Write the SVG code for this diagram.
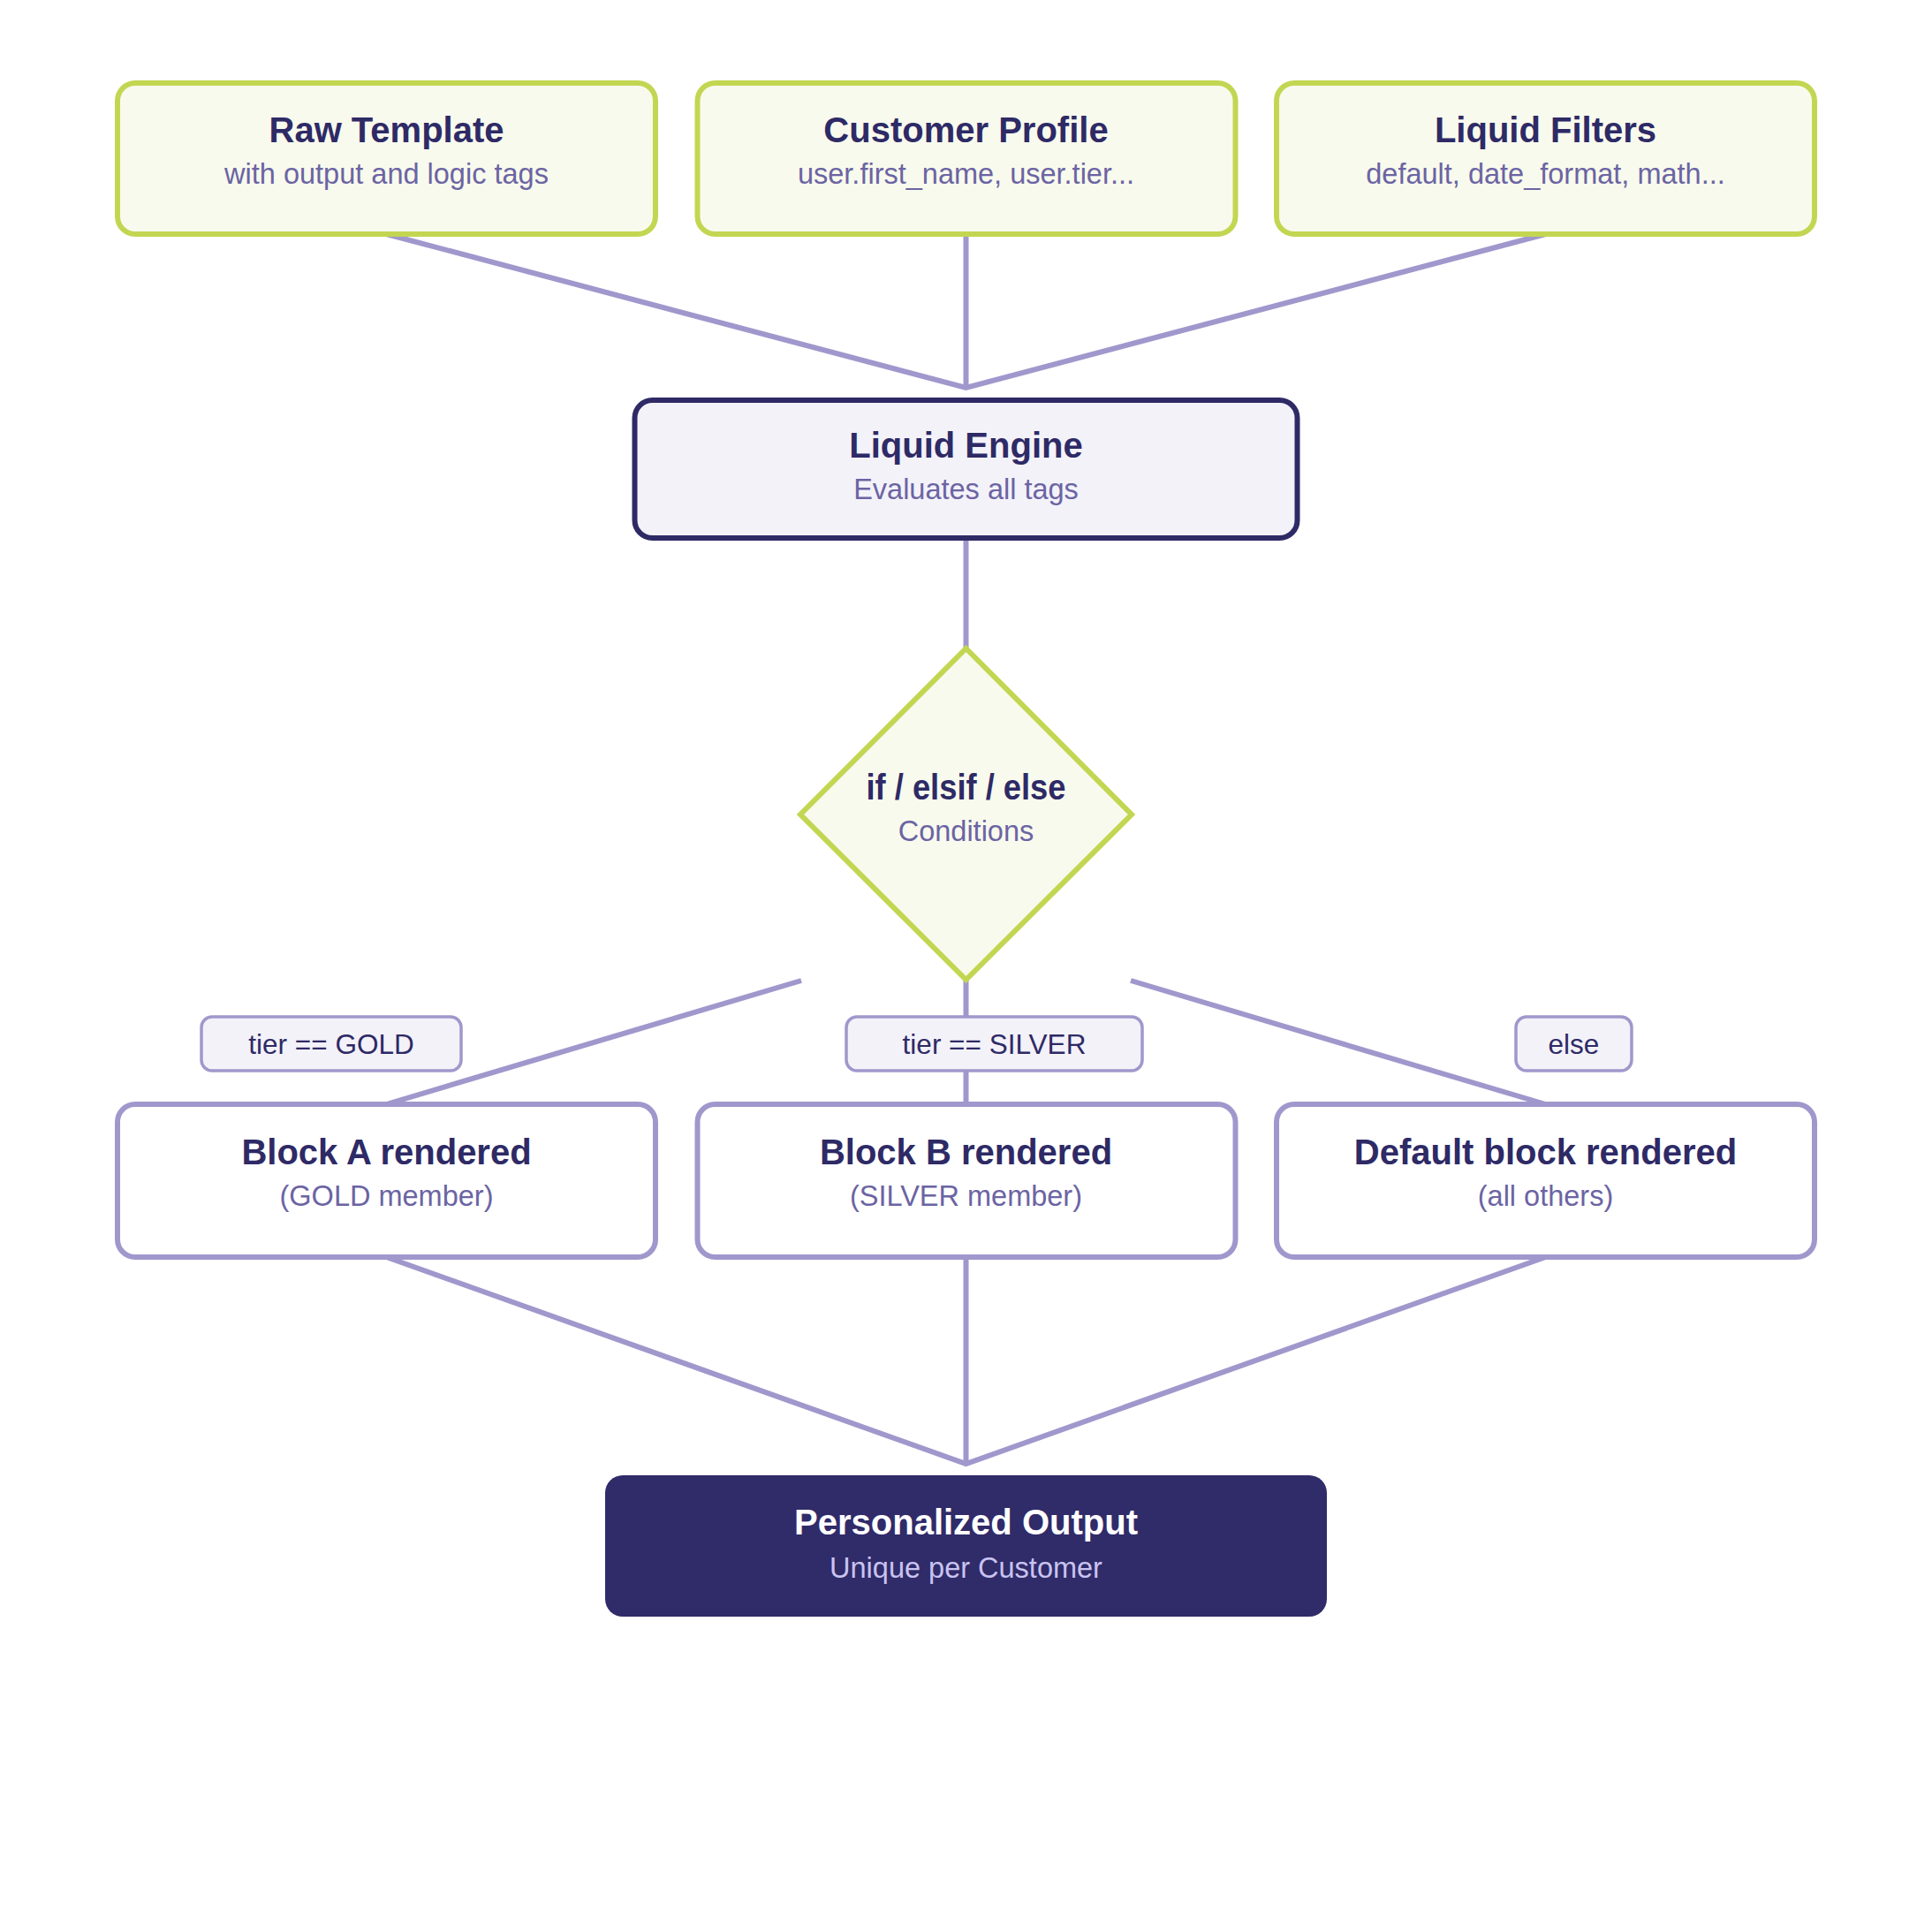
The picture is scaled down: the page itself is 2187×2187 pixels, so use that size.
<svg xmlns="http://www.w3.org/2000/svg" width="2187" height="2187" viewBox="0 0 2187 2187">
  <style>
    .t { font-family: "Liberation Sans", Arial, sans-serif; font-weight: bold; font-size: 40px; fill: #2e2a66; text-anchor: middle; }
    .s { font-family: "Liberation Sans", Arial, sans-serif; font-size: 32.5px; fill: #6b64a3; text-anchor: middle; }
    .lt { font-family: "Liberation Sans", Arial, sans-serif; font-size: 31.5px; fill: #2e2a66; text-anchor: middle; }
    .input { fill: #f8faed; stroke: #c3d652; stroke-width: 6; }
    .block { fill: #ffffff; stroke: #a098cc; stroke-width: 6; }
    .lbl { fill: #f3f2f9; stroke: #a098cc; stroke-width: 3.5; }
    .conn { stroke: #a098cc; stroke-width: 6; fill: none; stroke-linecap: butt; stroke-linejoin: miter; }
  </style>
  <rect width="2187" height="2187" fill="#ffffff"/>

  <g id="connectors">
    <polyline class="conn" points="437.5,265 1093.5,439 1749.5,265"/>
    <line class="conn" x1="1093.5" y1="265" x2="1093.5" y2="439"/>
    <line class="conn" x1="1093.5" y1="609" x2="1093.5" y2="734"/>
    <line class="conn" x1="907" y1="1110" x2="437.5" y2="1250"/>
    <line class="conn" x1="1093.5" y1="1109" x2="1093.5" y2="1250"/>
    <line class="conn" x1="1280" y1="1110" x2="1749.5" y2="1250"/>
    <polyline class="conn" points="437.5,1423 1093.5,1657 1749.5,1423"/>
    <line class="conn" x1="1093.5" y1="1423" x2="1093.5" y2="1657"/>
  </g>

  <g id="raw-template">
    <rect class="input" x="133" y="94" width="609" height="171" rx="20"/>
    <text class="t" x="437.5" y="161">Raw Template</text>
    <text class="s" x="437.5" y="208">with output and logic tags</text>
  </g>
  <g id="customer-profile">
    <rect class="input" x="789.5" y="94" width="609" height="171" rx="20"/>
    <text class="t" x="1093.5" y="161">Customer Profile</text>
    <text class="s" x="1093.5" y="208">user.first_name, user.tier...</text>
  </g>
  <g id="liquid-filters">
    <rect class="input" x="1445" y="94" width="609" height="171" rx="20"/>
    <text class="t" x="1749.5" y="161">Liquid Filters</text>
    <text class="s" x="1749.5" y="208">default, date_format, math...</text>
  </g>

  <g id="liquid-engine">
    <rect x="718.5" y="453" width="750" height="156" rx="20" fill="#f3f2f9" stroke="#2e2a66" stroke-width="6"/>
    <text class="t" x="1093.5" y="518">Liquid Engine</text>
    <text class="s" x="1093.5" y="565">Evaluates all tags</text>
  </g>

  <g id="conditions">
    <polygon points="1093.5,734 1281,922 1093.5,1109 906,922" fill="#f8faed" stroke="#c3d652" stroke-width="6"/>
    <text class="t" x="1093.5" y="905" textLength="226" lengthAdjust="spacingAndGlyphs">if / elsif / else</text>
    <text class="s" x="1093.5" y="952">Conditions</text>
  </g>

  <g id="label-gold">
    <rect class="lbl" x="228" y="1151" width="294" height="61" rx="12"/>
    <text class="lt" x="375" y="1193">tier == GOLD</text>
  </g>
  <g id="label-silver">
    <rect class="lbl" x="958" y="1151" width="335" height="61" rx="12"/>
    <text class="lt" x="1125.5" y="1193">tier == SILVER</text>
  </g>
  <g id="label-else">
    <rect class="lbl" x="1716" y="1151" width="131" height="61" rx="12"/>
    <text class="lt" x="1781.5" y="1193">else</text>
  </g>

  <g id="block-a">
    <rect class="block" x="133" y="1250" width="609" height="173" rx="20"/>
    <text class="t" x="437.5" y="1318">Block A rendered</text>
    <text class="s" x="437.5" y="1365">(GOLD member)</text>
  </g>
  <g id="block-b">
    <rect class="block" x="789.5" y="1250" width="609" height="173" rx="20"/>
    <text class="t" x="1093.5" y="1318">Block B rendered</text>
    <text class="s" x="1093.5" y="1365">(SILVER member)</text>
  </g>
  <g id="default-block">
    <rect class="block" x="1445" y="1250" width="609" height="173" rx="20"/>
    <text class="t" x="1749.5" y="1318">Default block rendered</text>
    <text class="s" x="1749.5" y="1365">(all others)</text>
  </g>

  <g id="personalized-output">
    <rect x="685" y="1670" width="817" height="160" rx="20" fill="#302b69"/>
    <text class="t" x="1093.5" y="1737" style="fill:#ffffff">Personalized Output</text>
    <text class="s" x="1093.5" y="1786" style="fill:#c9c3f0">Unique per Customer</text>
  </g>
</svg>
